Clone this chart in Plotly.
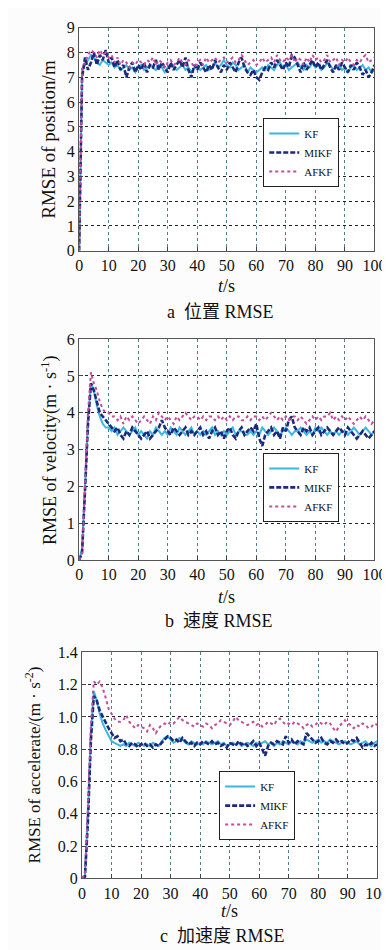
import plotly.graph_objects as go

t = list(range(0, 101))

pos_kf = [0, 7.2, 7.5, 7.7, 7.9, 7.8, 7.6, 7.5, 7.7, 7.6,
          7.5, 7.6, 7.4, 7.5, 7.3, 7.4, 7.5, 7.3, 7.4, 7.2,
          7.4, 7.5, 7.3, 7.4, 7.5, 7.4, 7.3, 7.5, 7.4, 7.2,
          7.4, 7.5, 7.4, 7.3, 7.4, 7.5, 7.3, 7.4, 7.2, 7.4,
          7.5, 7.3, 7.4, 7.5, 7.3, 7.4, 7.6, 7.4, 7.5, 7.7,
          7.5, 7.4, 7.6, 7.5, 7.3, 7.4, 7.5, 7.2, 7.4, 7.3,
          7.2, 7.3, 7.4, 7.3, 7.5, 7.4, 7.3, 7.5, 7.6, 7.4,
          7.5, 7.3, 7.4, 7.5, 7.6, 7.4, 7.3, 7.5, 7.4, 7.6,
          7.4, 7.5, 7.3, 7.4, 7.6, 7.5, 7.3, 7.4, 7.5, 7.3,
          7.4, 7.2, 7.4, 7.5, 7.3, 7.4, 7.5, 7.3, 7.4, 7.2, 7.3]
pos_mikf = [0, 7.0, 7.8, 7.3, 7.6, 8.0, 7.5, 7.9, 7.7, 8.1,
            7.6, 7.8, 7.4, 7.7, 7.3, 7.5, 7.0, 7.4, 7.6, 7.2,
            7.5, 7.3, 7.6, 7.2, 7.5, 7.4, 7.7, 7.3, 7.6, 7.4,
            7.2, 7.6, 7.3, 7.5, 7.7, 7.4, 7.8, 7.3, 7.0, 7.5,
            7.3, 7.6, 7.4, 7.2, 7.5, 7.3, 7.7, 7.4, 7.2, 7.5,
            7.3, 7.6, 7.4, 7.2, 7.6, 7.8, 7.4, 7.2, 7.1, 7.3,
            7.0, 6.9, 7.2, 7.4, 7.3, 7.6, 7.4, 7.7, 7.5, 7.3,
            7.6, 7.4, 7.9, 7.8, 7.5, 7.2, 7.6, 7.3, 7.5, 7.7,
            7.4, 7.6, 7.3, 7.5, 7.7, 7.4, 7.2, 7.5, 7.3, 7.6,
            7.4, 7.2, 7.5, 7.3, 7.6, 7.4, 7.1, 7.3, 7.0, 7.2, 7.5]
pos_afkf = [0, 7.4, 7.6, 7.9, 8.1, 8.0, 7.8, 8.1, 7.9, 8.0,
            7.8, 7.9, 7.6, 7.8, 7.5, 7.7, 7.6, 7.4, 7.6, 7.5,
            7.7, 7.6, 7.5, 7.7, 7.6, 7.8, 7.5, 7.7, 7.6, 7.4,
            7.6, 7.7, 7.5, 7.6, 7.8, 7.6, 7.5, 7.7, 7.6, 7.4,
            7.6, 7.7, 7.5, 7.8, 7.6, 7.7, 7.8, 7.6, 7.7, 7.8,
            7.6, 7.7, 7.8, 7.6, 7.7, 7.9, 7.7, 7.5, 7.6, 7.7,
            7.5, 7.6, 7.8, 7.6, 7.7, 7.8, 7.6, 7.9, 7.7, 7.6,
            7.8, 7.7, 7.9, 7.6, 7.8, 7.7, 7.5, 7.8, 7.6, 7.9,
            7.7, 7.8, 7.6, 7.7, 7.9, 7.6, 7.7, 7.8, 7.5, 7.7,
            7.6, 7.8, 7.6, 7.5, 7.7, 7.6, 7.8, 7.9, 7.6, 7.7, 7.8]

vel_kf = [0, 0.3, 2.0, 3.8, 4.8, 4.6, 4.2, 3.9, 3.7, 3.6,
          3.6, 3.5, 3.6, 3.4, 3.5, 3.6, 3.5, 3.4, 3.5, 3.6,
          3.4, 3.5, 3.4, 3.3, 3.5, 3.4, 3.6, 3.5, 3.4, 3.5,
          3.4, 3.6, 3.5, 3.4, 3.6, 3.5, 3.4, 3.5, 3.6, 3.4,
          3.5, 3.4, 3.5, 3.4, 3.5, 3.6, 3.4, 3.5, 3.4, 3.5,
          3.4, 3.5, 3.6, 3.4, 3.5, 3.5, 3.4, 3.4, 3.5, 3.4,
          3.5, 3.4, 3.6, 3.5, 3.4, 3.5, 3.6, 3.5, 3.4, 3.5,
          3.6, 3.5, 3.4, 3.5, 3.5, 3.6, 3.5, 3.4, 3.5, 3.4,
          3.6, 3.5, 3.6, 3.5, 3.4, 3.5, 3.4, 3.5, 3.4, 3.5,
          3.5, 3.4, 3.5, 3.6, 3.5, 3.4, 3.5, 3.6, 3.5, 3.4, 3.5]
vel_mikf = [0, 0.2, 1.9, 3.7, 4.8, 4.6, 4.3, 4.0, 3.9, 3.8,
            3.7, 3.6, 3.5, 3.6, 3.4, 3.3, 3.5, 3.4, 3.6, 3.5,
            3.4, 3.3, 3.4, 3.5, 3.3, 3.4, 3.5, 3.6, 3.8, 3.6,
            3.5, 3.4, 3.6, 3.5, 3.4, 3.5, 3.6, 3.4, 3.5, 3.4,
            3.5, 3.6, 3.4, 3.5, 3.3, 3.5, 3.6, 3.4, 3.5, 3.3,
            3.5, 3.6, 3.4, 3.3, 3.5, 3.6, 3.4, 3.5, 3.6, 3.5,
            3.7, 3.3, 3.1, 3.4, 3.5, 3.6, 3.4, 3.5, 3.3, 3.6,
            3.5, 3.8, 3.9, 3.6, 3.5, 3.4, 3.6, 3.5, 3.6, 3.4,
            3.5, 3.6, 3.4, 3.5, 3.6, 3.5, 3.4, 3.5, 3.6, 3.5,
            3.4, 3.6, 3.5, 3.4, 3.3, 3.4, 3.5, 3.4, 3.3, 3.4, 3.5]
vel_afkf = [0, 0.2, 2.1, 4.0, 5.1, 4.8, 4.6, 4.3, 4.1, 4.0,
            4.0, 3.9, 3.9, 3.8, 3.9, 3.7, 3.9, 3.8, 3.9, 3.8,
            3.7, 3.8, 3.9, 3.8, 3.7, 3.9, 3.8, 4.0, 3.9, 3.8,
            3.9, 3.8, 3.7, 3.9, 3.8, 3.9, 4.0, 3.9, 3.8, 3.9,
            3.9, 3.8, 3.9, 3.8, 3.9, 3.9, 3.8, 3.9, 3.8, 3.9,
            3.8, 3.9, 3.8, 3.9, 3.9, 3.8, 3.8, 3.9, 3.8, 3.9,
            3.9, 3.8, 3.9, 3.8, 3.9, 4.0, 3.9, 3.8, 3.9, 3.8,
            3.9, 3.8, 3.9, 3.9, 3.8, 3.9, 3.8, 3.7, 3.8, 3.9,
            3.8, 3.9, 3.8, 3.9, 3.9, 4.0, 3.8, 3.9, 3.8, 3.9,
            3.8, 3.9, 3.8, 3.7, 3.8, 3.9, 3.8, 3.9, 3.8, 3.7, 3.8]

acc_kf = [0, 0.02, 0.4, 0.9, 1.16, 1.10, 1.02, 0.96, 0.92, 0.88,
          0.85, 0.84, 0.83, 0.82, 0.83, 0.82, 0.84, 0.83, 0.82, 0.84,
          0.83, 0.82, 0.83, 0.82, 0.84, 0.83, 0.82, 0.85, 0.87, 0.88,
          0.86, 0.84, 0.85, 0.87, 0.86, 0.84, 0.83, 0.85, 0.84, 0.83,
          0.84, 0.83, 0.85, 0.84, 0.83, 0.84, 0.85, 0.83, 0.84, 0.82,
          0.83, 0.84, 0.83, 0.84, 0.82, 0.83, 0.84, 0.83, 0.82, 0.84,
          0.83, 0.84, 0.85, 0.83, 0.84, 0.82, 0.84, 0.83, 0.85, 0.84,
          0.83, 0.85, 0.84, 0.83, 0.85, 0.84, 0.86, 0.85, 0.84, 0.85,
          0.86, 0.84, 0.85, 0.84, 0.86, 0.85, 0.84, 0.83, 0.84, 0.85,
          0.84, 0.83, 0.84, 0.85, 0.83, 0.84, 0.85, 0.83, 0.82, 0.84, 0.85]
acc_mikf = [0, 0.01, 0.35, 0.85, 1.13, 1.10, 1.04, 1.00, 0.97, 0.93,
            0.90, 0.87, 0.88, 0.85, 0.86, 0.83, 0.82, 0.84, 0.83, 0.81,
            0.83, 0.84, 0.82, 0.83, 0.81, 0.83, 0.82, 0.84, 0.86, 0.88,
            0.87, 0.85, 0.86, 0.84, 0.87, 0.85, 0.83, 0.84, 0.82, 0.84,
            0.83, 0.85, 0.84, 0.83, 0.85, 0.83, 0.84, 0.82, 0.83, 0.81,
            0.84, 0.83, 0.82, 0.85, 0.83, 0.84, 0.82, 0.83, 0.85, 0.82,
            0.84, 0.80, 0.76, 0.82, 0.84, 0.83, 0.85, 0.84, 0.83, 0.88,
            0.84, 0.86, 0.83, 0.85, 0.84, 0.83, 0.90, 0.88, 0.86, 0.84,
            0.85, 0.87, 0.84, 0.83, 0.85, 0.84, 0.86, 0.84, 0.85, 0.83,
            0.84, 0.86, 0.85, 0.87, 0.84, 0.81, 0.83, 0.82, 0.84, 0.82, 0.83]
acc_afkf = [0, 0.02, 0.45, 0.95, 1.22, 1.20, 1.22, 1.18, 1.12, 1.05,
            1.02, 0.99, 0.97, 0.97, 0.98, 1.01, 0.97, 0.95, 0.93, 0.95,
            0.94, 0.93, 0.91, 0.95, 0.93, 0.90, 0.93, 0.95, 0.96, 0.95,
            0.97, 0.96, 0.98, 1.00, 0.98, 0.97, 0.96, 0.95, 0.94, 0.96,
            0.95, 0.94, 0.96, 0.95, 0.93, 0.95, 0.96, 0.98, 0.97, 0.96,
            0.95, 0.97, 1.00, 0.98, 0.97, 0.96, 0.95, 0.96, 0.97, 0.95,
            0.96, 0.94, 0.95, 0.97, 0.96, 0.95, 0.98, 0.99, 0.97, 0.95,
            0.96, 0.95, 0.97, 0.96, 0.95, 0.93, 0.95, 0.96, 0.94, 0.95,
            0.97, 0.96, 0.95, 0.97, 0.96, 0.93, 0.91, 0.94, 0.96, 0.98,
            0.96, 0.95, 0.93, 0.95, 0.94, 0.96, 0.95, 0.93, 0.94, 0.96, 0.95]

series_names = ["KF", "MIKF", "AFKF"]
x_ticks = [0, 10, 20, 30, 40, 50, 60, 70, 80, 90, 100]
y1_ticks = [0, 1, 2, 3, 4, 5, 6, 7, 8, 9]
y2_ticks = [0, 1, 2, 3, 4, 5, 6]
y3_ticks = [0, 0.2, 0.4, 0.6, 0.8, 1.0, 1.2, 1.4]
y3_labels = ["0", "0.2", "0.4", "0.6", "0.8", "1.0", "1.2", "1.4"]

ylabels = ["RMSE of position/m",
           "RMSE of velocity(m · s<sup>-1</sup>)",
           "RMSE of accelerate/(m · s<sup>-2</sup>)"]
captions = ["a  位置 RMSE", "b  速度 RMSE", "c  加速度 RMSE"]

W, H = 390, 950
SERIF = "Liberation Serif, Noto Sans CJK SC, serif"

def px_x(p):
    return p / W

def px_y(p):
    return 1 - p / H

styles = [
    dict(color="#3cb6e3", width=2, dash="solid"),
    dict(color="#1b2a7e", width=2.6, dash="5px,2px"),
    dict(color="#c24d9c", width=2, dash="dot"),
]

panels = [
    dict(data=[pos_kf, pos_mikf, pos_afkf], xd=(70, 378), yd=(12, 239), yr=[0, 9], yt=y1_ticks, ytt=[str(v) for v in y1_ticks],
         leg=(262, 139), ylab_x=38, ylab_size=19, xt_y=275, cap_y=301, cap_x=217),
    dict(data=[vel_kf, vel_mikf, vel_afkf], xd=(70, 378), yd=(329, 554), yr=[0, 6], yt=y2_ticks, ytt=[str(v) for v in y2_ticks],
         leg=(262, 480), ylab_x=39, ylab_size=18, xt_y=592, cap_y=616, cap_x=216),
    dict(data=[acc_kf, acc_mikf, acc_afkf], xd=(73, 381), yd=(648, 878), yr=[0, 1.4], yt=y3_ticks, ytt=y3_labels,
         leg=(216, 804), ylab_x=22, ylab_size=17, xt_y=911, cap_y=937, cap_x=220),
]

fig = go.Figure()
annotations = []
layout = dict(width=W, height=H, margin=dict(l=0, r=0, t=0, b=0),
              paper_bgcolor="#fdfcfc", plot_bgcolor="white",
              font=dict(family=SERIF, size=15, color="black"))

for i, p in enumerate(panels):
    n = i + 1
    xa = "x" if n == 1 else f"x{n}"
    ya = "y" if n == 1 else f"y{n}"
    legname = "legend" if n == 1 else f"legend{n}"
    for j, (vals, name) in enumerate(zip(p["data"], series_names)):
        fig.add_trace(go.Scatter(x=t, y=vals, name=name, mode="lines",
                                 line=styles[j], xaxis=xa, yaxis=ya,
                                 legend=legname, showlegend=True))
    layout[f"xaxis{'' if n == 1 else n}"] = dict(
        domain=[px_x(p["xd"][0]), px_x(p["xd"][1])], anchor=ya, range=[0, 100],
        tickvals=x_ticks, ticks="inside", ticklen=4, tickcolor="#444",
        showline=True, linecolor="#555", linewidth=1.2, mirror=True,
        showgrid=True, gridcolor="#4f7f90", griddash="dot", gridwidth=1.2,
        zeroline=False, tickfont=dict(family=SERIF, size=16, color="#111"))
    layout[f"yaxis{'' if n == 1 else n}"] = dict(
        domain=[px_y(p["yd"][1]), px_y(p["yd"][0])], anchor=xa, range=p["yr"],
        tickvals=p["yt"], ticktext=p["ytt"], ticks="inside", ticklen=4, tickcolor="#444",
        showline=True, linecolor="#555", linewidth=1.2, mirror=True,
        showgrid=True, gridcolor="#222", griddash="dot", gridwidth=1.2,
        zeroline=False, tickfont=dict(family=SERIF, size=16, color="#111"))
    layout[legname] = dict(
        x=px_x(p["leg"][0]), y=px_y(p["leg"][1]), xanchor="left", yanchor="middle",
        bgcolor="white", bordercolor="#222", borderwidth=1,
        font=dict(family=SERIF, size=11, color="#111"), tracegroupgap=0,
        itemwidth=30)
    annotations.append(dict(text=ylabels[i], x=px_x(p["ylab_x"]), y=px_y((p["yd"][0] + p["yd"][1]) / 2),
                            xref="paper", yref="paper", textangle=-90, showarrow=False,
                            xanchor="center", yanchor="middle",
                            font=dict(family=SERIF, size=p["ylab_size"], color="#111")))
    cx = (p["xd"][0] + p["xd"][1]) / 2
    annotations.append(dict(text="<i>t</i>/s", x=px_x(cx), y=px_y(p["xt_y"]), xref="paper", yref="paper",
                            showarrow=False, xanchor="center", yanchor="middle",
                            font=dict(family=SERIF, size=18, color="#111")))
    annotations.append(dict(text=captions[i], x=px_x(p["cap_x"]), y=px_y(p["cap_y"]), xref="paper", yref="paper",
                            showarrow=False, xanchor="center", yanchor="middle",
                            font=dict(family=SERIF, size=18, color="#111")))

layout["annotations"] = annotations
fig.update_layout(**layout)
fig.write_html("out.html")
